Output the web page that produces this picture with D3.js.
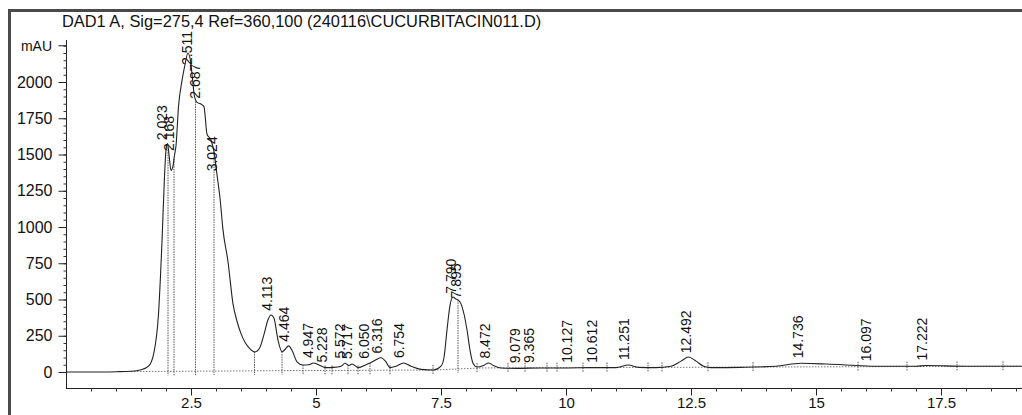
<!DOCTYPE html>
<html>
<head>
<meta charset="utf-8">
<script src="https://cdn.jsdelivr.net/npm/d3@7"></script>
<style>
  body { margin: 0; background: #fff; }
  text { font-family: "Liberation Sans", Arial, sans-serif; fill: #111; }
</style>
</head>
<body>
<div id="chart"></div>
<script>
const title = "DAD1 A, Sig=275,4 Ref=360,100 (240116\\CUCURBITACIN011.D)";

// signal trace (min, mAU)
const signalTime = [0, 0.6, 1.0, 1.3, 1.5, 1.65, 1.75, 1.85, 1.92, 1.97,
  2.0, 2.03, 2.06, 2.1, 2.14, 2.17, 2.2, 2.25, 2.32, 2.38,
  2.44, 2.5, 2.53, 2.57, 2.62, 2.69, 2.76, 2.82, 2.9, 2.96,
  3.02, 3.08, 3.14, 3.24, 3.34, 3.42, 3.5, 3.58, 3.68, 3.78,
  3.88, 3.96, 4.04, 4.1, 4.16, 4.24, 4.32, 4.38, 4.45, 4.52,
  4.62, 4.74, 4.85, 4.95, 5.05, 5.2, 5.35, 5.5, 5.58, 5.66,
  5.72, 5.85, 6.0, 6.1, 6.2, 6.3, 6.4, 6.48, 6.6, 6.75,
  6.9, 7.1, 7.35, 7.5, 7.56, 7.62, 7.68, 7.74, 7.79, 7.84,
  7.9, 7.96, 8.02, 8.08, 8.14, 8.22, 8.35, 8.45, 8.55, 8.7,
  9.0, 9.5, 10.0, 10.5, 11.0, 11.25, 11.45, 11.8, 12.1, 12.3,
  12.45, 12.6, 12.75, 12.9, 13.5, 14.2, 14.7, 15.2, 15.8, 16.1,
  17.0, 17.2, 18.0, 19.12];
const signalMAU = [0, 0, 2, 5, 15, 40, 120, 400, 900, 1350,
  1530, 1575, 1500, 1390, 1420, 1495, 1560, 1830, 2010, 2120,
  2200, 2120, 2020, 1900, 1860, 1850, 1830, 1640, 1600, 1520,
  1360, 1200, 980, 760, 470, 350, 265, 205, 160, 138,
  170, 260, 360, 393, 370, 220, 140, 155, 180, 150,
  70, 48, 50, 62, 50, 30, 32, 40, 60, 45,
  55, 30, 50, 65, 85, 98, 70, 30, 40, 62,
  40, 18, 14, 40, 100, 290, 460, 517, 505, 497,
  470, 400, 290, 150, 60, 34, 45, 62, 45, 28,
  25, 28, 28, 30, 30, 48, 32, 30, 40, 75,
  103, 75, 40, 30, 32, 40, 60, 55, 45, 40,
  40, 45, 40, 40];

// integration baseline
const baseTime = [1.3, 4.8, 7.4, 8.3, 19.12];
const baseMAU = [3, 10, 14, 28, 40];

// peak start / stop / drop marks
const markTimes = [2.04, 2.16, 2.59, 2.96, 3.77, 4.32, 4.74, 5.18, 5.32, 5.64,
  5.84, 6.08, 6.48, 7.34, 7.84, 8.22, 8.84, 9.18, 9.62, 9.82, 10.34, 10.82,
  11.64, 11.92, 12.84, 13.74, 15.84, 16.82, 17.82, 18.74];

const peakLabels = ["2.023", "2.168", "2.511", "2.687", "3.024", "4.113", "4.464",
  "4.947", "5.228", "5.572", "5.717", "6.050", "6.316", "6.754", "7.790", "7.895",
  "8.472", "9.079", "9.365", "10.127", "10.612", "11.251", "12.492", "14.736",
  "16.097", "17.222"];

const yTicks = [0, 250, 500, 750, 1000, 1250, 1500, 1750, 2000];
const xTicks = [2.5, 5, 7.5, 10, 12.5, 15, 17.5];

const W = 1022, H = 415;
const svg = d3.select("#chart").append("svg")
  .attr("width", W).attr("height", H);

const x = d3.scaleLinear().domain([0, 19.12]).range([66, 66 + 50 * 19.12]);
const y = d3.scaleLinear().domain([0, 2000]).range([372, 82]);
const axisY = 388;

// piecewise-linear lookups for the trace and baseline
const sig = d3.scaleLinear().domain(signalTime).range(signalMAU).clamp(true);
const base = d3.scaleLinear().domain(baseTime).range(baseMAU).clamp(true);

// frame
svg.append("path")
  .attr("d", `M9.5,${H + 5} L9.5,10.5 L${W + 5},10.5`)
  .attr("fill", "none").attr("stroke", "#4a4a4a").attr("stroke-width", 3);

svg.append("text")
  .attr("x", 62).attr("y", 27)
  .style("font-size", "16.4px")
  .text(title);

// axes lines
svg.append("line")
  .attr("x1", 66.5).attr("x2", 66.5)
  .attr("y1", y(2290)).attr("y2", axisY + 0.5)
  .attr("stroke", "#222");
svg.append("line")
  .attr("x1", 66).attr("x2", W)
  .attr("y1", axisY + 0.5).attr("y2", axisY + 0.5)
  .attr("stroke", "#222");

// y axis: minor then major
svg.append("g")
  .attr("transform", "translate(66.5,0)")
  .call(d3.axisLeft(y).tickValues(d3.range(0, 2300, 50)).tickSize(3).tickFormat(""))
  .call(g => g.select(".domain").remove())
  .call(g => g.selectAll("line").attr("stroke", "#333"));

const yAxis = svg.append("g")
  .attr("transform", "translate(66.5,0)")
  .call(d3.axisLeft(y).tickValues(yTicks).tickSize(8).tickPadding(6).tickFormat(d3.format("d")))
  .call(g => g.select(".domain").remove());
yAxis.selectAll("text").style("font-size", "16px").attr("fill", "#111");
yAxis.selectAll("line").attr("stroke", "#222");

svg.append("line")
  .attr("x1", 58.5).attr("x2", 66.5)
  .attr("y1", y(2250)).attr("y2", y(2250))
  .attr("stroke", "#222");
svg.append("text")
  .attr("x", 52).attr("y", y(2250))
  .attr("dy", "0.35em")
  .attr("text-anchor", "end")
  .style("font-size", "14px")
  .text("mAU");

// x axis: minor then major
svg.append("g")
  .attr("transform", `translate(0,${axisY + 0.5})`)
  .call(d3.axisBottom(x).tickValues(d3.range(0.5, 19.1, 0.5)).tickSize(3).tickFormat(""))
  .call(g => g.select(".domain").remove())
  .call(g => g.selectAll("line").attr("stroke", "#333"));

const xAxis = svg.append("g")
  .attr("transform", `translate(0,${axisY + 0.5})`)
  .call(d3.axisBottom(x).tickValues(xTicks).tickSize(7).tickPadding(2).tickFormat(d3.format("")))
  .call(g => g.select(".domain").remove());
xAxis.selectAll("text").style("font-size", "15px").attr("fill", "#111");
xAxis.selectAll("line").attr("stroke", "#222");

// dotted baseline
svg.append("path")
  .datum(d3.range(1.3, 19.12, 0.1))
  .attr("d", d3.line().x(d => x(d)).y(d => y(base(d))))
  .attr("fill", "none")
  .attr("stroke", "#777")
  .attr("stroke-dasharray", "1.5,1.5");

// drop lines / peak marks
svg.append("g").selectAll("line")
  .data(markTimes)
  .enter().append("line")
  .attr("x1", d => x(d)).attr("x2", d => x(d))
  .attr("y1", d => Math.min(y(sig(d)), y(base(d)) - 5))
  .attr("y2", d => y(base(d)) + 4)
  .attr("stroke", "#555")
  .attr("stroke-dasharray", "1.5,1");

// trace
svg.append("path")
  .datum(d3.zip(signalTime, signalMAU))
  .attr("d", d3.line().x(d => x(d[0])).y(d => y(d[1])).curve(d3.curveMonotoneX))
  .attr("fill", "none")
  .attr("stroke", "#222")
  .attr("stroke-width", 1.1);

// retention time labels
svg.append("g").selectAll("text")
  .data(peakLabels)
  .enter().append("text")
  .attr("transform", d => `translate(${x(+d)},${y(sig(+d)) - 5}) rotate(-90)`)
  .style("font-size", "14px")
  .text(d => d);
</script>
</body>
</html>
